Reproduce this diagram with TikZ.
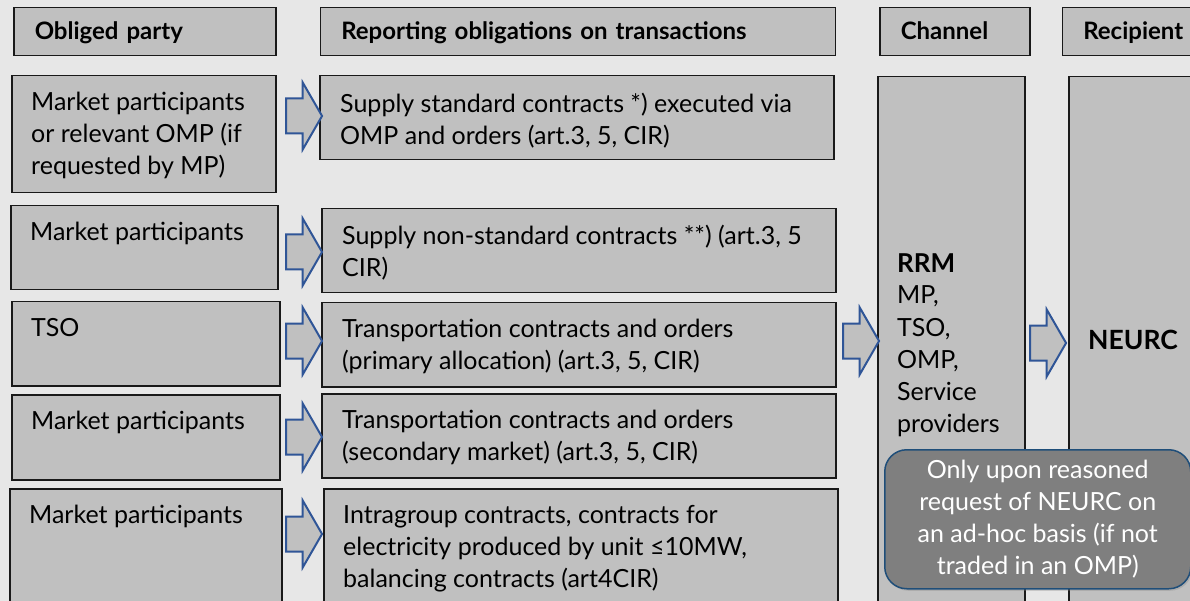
\documentclass[tikz,border=0pt]{standalone}
\usepackage{fontspec}
\setmainfont{Lato}
\usepackage{tikz}
\usetikzlibrary{positioning, shapes.arrows, shadows}
\usepackage{xcolor}

\definecolor{bggray}{HTML}{E7E7E7}
\definecolor{boxgray}{HTML}{C0C0C0}
\definecolor{arrowblue}{HTML}{2F5597}
\definecolor{notegray}{HTML}{7F7F7F}
\definecolor{noteblue}{HTML}{1F4E79}

\begin{document}
\begin{tikzpicture}[
  x=1pt, y=-1pt,
  every node/.style={font=\fontsize{25}{32}\selectfont, align=left},
  hdr/.style   ={rectangle, draw=black!90, fill=boxgray, line width=1.5pt, anchor=north west, minimum height=48pt, inner xsep=21pt, inner ysep=0pt, text width=#1, text height=18pt, text depth=2pt, font=\bfseries\fontsize{24}{28}\selectfont},
  cell/.style 2 args={rectangle, draw=black!90, fill=boxgray, line width=1.5pt, anchor=north west, minimum width=#1, minimum height=#2, inner sep=0pt},
  txt/.style   ={inner sep=0pt, anchor=north west},
  big/.style   ={font=\bfseries\fontsize{26.5}{32}\selectfont},
  blk/.style   ={single arrow, draw=arrowblue, fill=boxgray, line width=2pt, minimum height=36pt, inner xsep=0pt, inner ysep=16.5pt, single arrow head extend=16pt, single arrow tip angle=120},
  note/.style  ={rectangle, draw=noteblue, fill=notegray, line width=1.5pt, rounded corners=22pt, anchor=north west, minimum width=306pt, minimum height=139pt, align=center, text=white, drop shadow={opacity=0.3, shadow xshift=1.5pt, shadow yshift=-2pt}}
]

%% Frame
\useasboundingbox (0,0) rectangle (1190,601);
\clip (0,0) rectangle (1190,601);
\fill[bggray] (0,0) rectangle (1190,601);

%% Column headers
\node[hdr=220pt] (hparty) at (13,7) {Obliged party};
\node[hdr=473pt, right=43pt of hparty] (hrep) {Reporting obligations on transactions};
\node[hdr=108pt, right=43pt of hrep] (hchan) {Channel};
\node[hdr=118pt, right=31pt of hchan] (hrec) {Recipient};

%% Obliged parties (left column)
\node[cell={264pt}{117pt}] (ob1) at (11,75)  {};
\node[cell={267pt}{84pt}]  (ob2) at (10,205) {};
\node[cell={268pt}{84pt}]  (ob3) at (11,301) {};
\node[cell={268pt}{85pt}]  (ob4) at (11,394) {};
\node[cell={272pt}{140pt}] (ob5) at (9,488)  {};

\node[txt, below right=17pt and 20pt of ob1.north west] (ob1t) {Market participants\\or relevant OMP (if\\requested by MP)};
\node[txt, below right=17pt and 20pt of ob2.north west] (ob2t) {Market participants};
\node[txt, below right=17pt and 20pt of ob3.north west] (ob3t) {TSO};
\node[txt, below right=17pt and 20pt of ob4.north west] (ob4t) {Market participants};
\node[txt, below right=17pt and 20pt of ob5.north west] (ob5t) {Market participants};

%% Reporting obligations (middle column)
\node[cell={514pt}{84pt}]  (rp1) at (319,75)  {};
\node[cell={514pt}{84pt}]  (rp2) at (321,208) {};
\node[cell={514pt}{84pt}]  (rp3) at (321,302) {};
\node[cell={514pt}{84pt}]  (rp4) at (321,393) {};
\node[cell={514pt}{140pt}] (rp5) at (323,488) {};

\node[txt, below right=18pt and 21pt of rp1.north west] (rp1t) {Supply standard contracts *) executed via\\OMP and orders (art.3, 5, CIR)};
\node[txt, below right=17pt and 21pt of rp2.north west] (rp2t) {Supply non-standard contracts **) (art.3, 5\\CIR)};
\node[txt, below right=17pt and 21pt of rp3.north west] (rp3t) {Transportation contracts and orders\\(primary allocation) (art.3, 5, CIR)};
\node[txt, below right=17pt and 21pt of rp4.north west] (rp4t) {Transportation contracts and orders\\(secondary market) (art.3, 5, CIR)};
\node[txt, below right=17pt and 20pt of rp5.north west] (rp5t) {Intragroup contracts, contracts for\\electricity produced by unit ≤10MW,\\balancing contracts (art4CIR)};

%% Channel and recipient
\node[cell={147pt}{560pt}] (ch) at (877,76)  {};
\node[cell={140pt}{560pt}] (rc) at (1068,76) {};

\node[txt, below right=177pt and 20pt of ch.north west] (cht) {{\bfseries\fontsize{26}{32}\selectfont RRM}\\MP,\\TSO,\\OMP,\\Service\\providers};

%% Block arrows
\foreach \r/\yy in {1/116, 2/252, 3/341, 4/437, 5/534}{
  \node[blk] (ar\r) at (299,\yy) {};
}
\node[blk] (ar6) at (856,341) {};
\node[blk] (ar7) at (1043,343) {};

\node[txt, big, anchor=west] (rct) at ([xshift=20pt, yshift=3pt]rc.west |- ar7) {NEURC};

%% Ad-hoc note
\node[note] (nt) at (884,449) {Only upon reasoned\\request of NEURC on\\an ad-hoc basis (if not\\traded in an OMP)};

\end{tikzpicture}
\end{document}
